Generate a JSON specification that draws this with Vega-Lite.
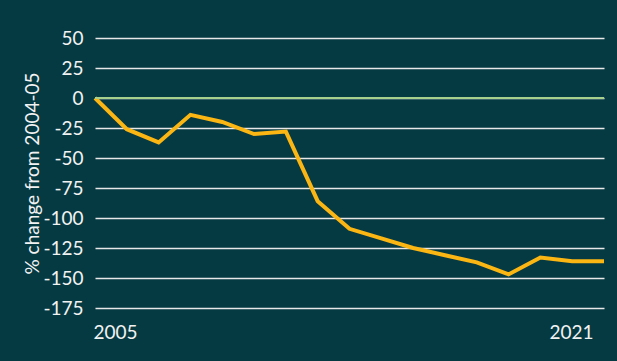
{
  "$schema": "https://vega.github.io/schema/vega-lite/v6.json",
  "width": 509,
  "height": 270,
  "autosize": {"type": "none"},
  "padding": {"left": 95, "top": 38, "right": 13, "bottom": 53},
  "background": "#063a42",
  "config": {
    "view": {"stroke": null},
    "font": "Lato"
  },
  "data": {
    "values": [
      {"year": 2005, "change": 0},
      {"year": 2006, "change": -26},
      {"year": 2007, "change": -37},
      {"year": 2008, "change": -14},
      {"year": 2009, "change": -20},
      {"year": 2010, "change": -30},
      {"year": 2011, "change": -28},
      {"year": 2012, "change": -86},
      {"year": 2013, "change": -109},
      {"year": 2014, "change": -117},
      {"year": 2015, "change": -125},
      {"year": 2016, "change": -131},
      {"year": 2017, "change": -137},
      {"year": 2018, "change": -147},
      {"year": 2019, "change": -133},
      {"year": 2020, "change": -136},
      {"year": 2021, "change": -136}
    ]
  },
  "layer": [
    {
      "mark": {"type": "line", "color": "#fbb614", "strokeWidth": 4, "strokeJoin": "miter"},
      "encoding": {
        "x": {
          "field": "year",
          "type": "quantitative",
          "scale": {"domain": [2005, 2021], "nice": false, "zero": false},
          "axis": {
            "values": [2005, 2021],
            "format": "d",
            "title": null,
            "grid": false,
            "domain": false,
            "ticks": false,
            "labelColor": "#f2f2f2",
            "labelFontSize": 19,
            "labelPadding": 15,
            "labelAlign": "center",
            "labelFlush": false,
            "labelOverlap": false,
            "labelOffset": {"condition": {"test": "datum.value == 2005", "value": 20}, "value": -33}
          }
        },
        "y": {
          "field": "change",
          "type": "quantitative",
          "scale": {"domain": [-175, 50], "nice": false},
          "axis": {
            "values": [-175, -150, -125, -100, -75, -50, -25, 0, 25, 50],
            "tickCount": 20,
            "labelExpr": "'' + datum.value",
            "labelOverlap": false,
            "title": "% change from 2004-05",
            "titleColor": "#f2f2f2",
            "titleFontSize": 19,
            "titleFontWeight": "normal",
            "titleX": -63,
            "titleY": 135,
            "titleAngle": -90,
            "titleAlign": "center",
            "titleBaseline": "middle",
            "grid": true,
            "gridColor": "#e8e8e8",
            "gridWidth": 1.5,
            "domain": false,
            "ticks": false,
            "labelColor": "#f2f2f2",
            "labelFontSize": 19,
            "labelPadding": 12
          }
        }
      }
    },
    {
      "mark": {"type": "rule", "color": "#a9d18e", "strokeWidth": 1.5},
      "encoding": {"y": {"datum": 0}}
    }
  ]
}
